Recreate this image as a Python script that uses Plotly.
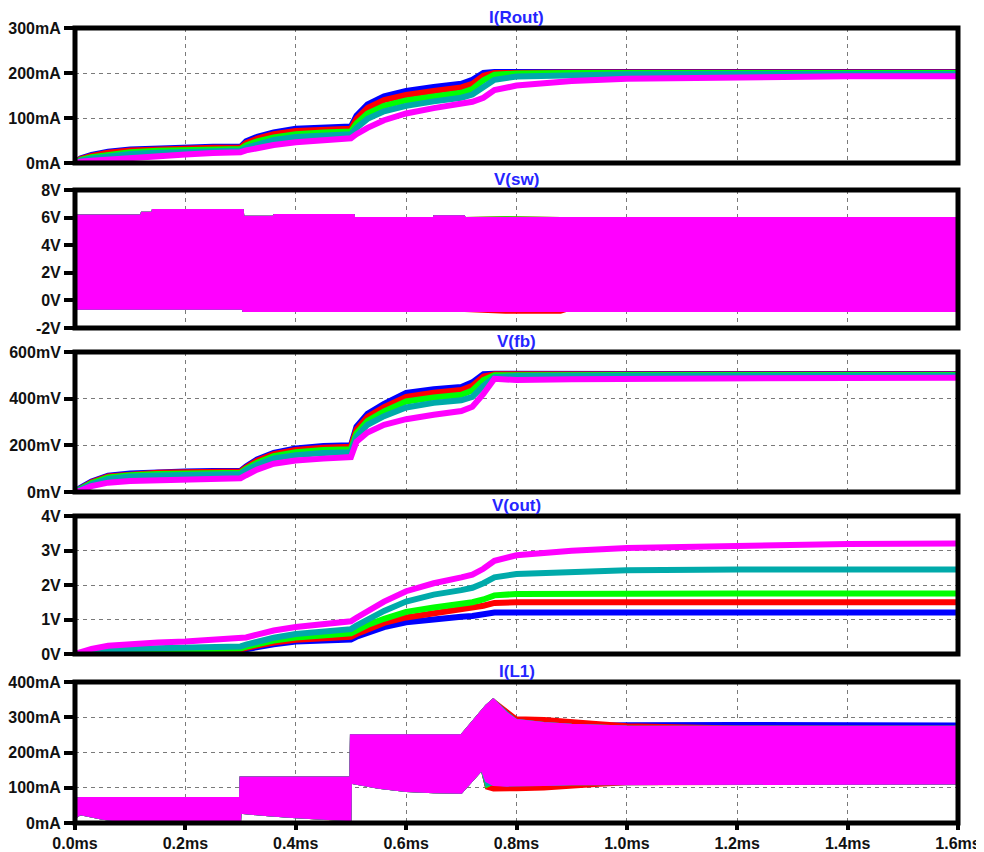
import plotly.graph_objects as go

# ---------------- data ----------------
SERIES_COLORS = ["#0000FF", "#FF0000", "#00FF00", "#00AAAA", "#FF00FF"]
PANEL_TITLES = ["I(Rout)", "V(sw)", "V(fb)", "V(out)", "I(L1)"]

# common time base (ms) for the smooth traces
t_smooth = [0, 0.01, 0.03, 0.06, 0.1, 0.15, 0.2, 0.25, 0.3, 0.31, 0.33, 0.36, 0.4, 0.45, 0.5,
            0.51, 0.53, 0.56, 0.6, 0.65, 0.7, 0.72, 0.74, 0.76, 0.8, 0.9, 1.0, 1.2, 1.4, 1.6]

# I(Rout) in mA
irout_blue = [0, 10, 18, 25, 30, 33, 35, 36, 36, 48, 58, 68, 76, 80, 81,
              105, 130, 148, 160, 169, 176, 185, 200, 202, 202, 202, 202, 202, 202, 202]
irout_red = [0, 9, 16, 23, 28, 31, 33, 34, 34, 44, 54, 64, 71, 75, 76,
             98, 122, 140, 151, 160, 168, 176, 194, 200, 201, 201, 201, 201, 201, 201]
irout_green = [0, 7, 13, 19, 24, 27, 29, 30, 31, 39, 48, 57, 64, 68, 70,
               88, 110, 127, 139, 148, 156, 164, 184, 196, 199, 200, 200, 200, 200, 200]
irout_teal = [0, 5, 10, 15, 20, 23, 25, 27, 28, 34, 42, 51, 58, 62, 64,
              78, 98, 115, 127, 137, 145, 152, 168, 185, 192, 196, 197, 198, 198, 198]
irout_magenta = [0, 3, 5, 8, 12, 16, 19, 22, 24, 28, 34, 40, 46, 51, 55,
                 64, 78, 95, 110, 122, 131, 136, 145, 162, 172, 182, 187, 191, 193, 193]

# V(fb) in mV
vfb_blue = [0, 18, 45, 70, 79, 85, 88, 90, 91, 110, 140, 168, 187, 197, 200,
            280, 335, 378, 425, 440, 450, 470, 505, 507, 506, 506, 506, 506, 506, 506]
vfb_red = [0, 16, 42, 67, 76, 82, 85, 87, 88, 105, 134, 162, 180, 190, 194,
           268, 322, 364, 408, 425, 437, 455, 495, 505, 504, 504, 504, 504, 504, 504]
vfb_green = [0, 14, 38, 62, 72, 77, 80, 82, 83, 100, 126, 154, 170, 180, 183,
             252, 305, 345, 388, 405, 417, 435, 480, 500, 501, 501, 501, 501, 501, 501]
vfb_teal = [0, 11, 33, 56, 66, 71, 74, 76, 77, 94, 117, 144, 158, 167, 170,
            238, 288, 325, 362, 382, 393, 408, 455, 492, 497, 498, 498, 498, 498, 498]
vfb_magenta = [0, 6, 25, 40, 47, 51, 54, 57, 59, 72, 96, 121, 135, 143, 150,
               215, 255, 288, 312, 331, 347, 365, 420, 485, 480, 483, 485, 488, 489, 490]

# V(out) in V
vout_blue = [0, 0.01, 0.03, 0.05, 0.06, 0.07, 0.08, 0.08, 0.09, 0.14, 0.21, 0.28, 0.36, 0.40, 0.42,
             0.50, 0.62, 0.78, 0.92, 1.02, 1.08, 1.10, 1.15, 1.20, 1.20, 1.20, 1.20, 1.20, 1.20, 1.20]
vout_red = [0, 0.01, 0.04, 0.07, 0.09, 0.10, 0.11, 0.12, 0.13, 0.18, 0.25, 0.33, 0.41, 0.46, 0.50,
            0.58, 0.72, 0.90, 1.06, 1.18, 1.27, 1.32, 1.40, 1.48, 1.50, 1.50, 1.50, 1.50, 1.50, 1.50]
vout_green = [0, 0.02, 0.05, 0.09, 0.11, 0.13, 0.14, 0.15, 0.16, 0.21, 0.29, 0.39, 0.48, 0.55, 0.60,
              0.68, 0.84, 1.02, 1.22, 1.35, 1.45, 1.50, 1.58, 1.70, 1.74, 1.75, 1.75, 1.75, 1.75, 1.75]
vout_teal = [0, 0.02, 0.07, 0.12, 0.15, 0.17, 0.19, 0.20, 0.22, 0.27, 0.36, 0.47, 0.58, 0.66, 0.72,
             0.82, 1.00, 1.25, 1.52, 1.72, 1.85, 1.92, 2.05, 2.22, 2.32, 2.38, 2.43, 2.45, 2.45, 2.45]
vout_magenta = [0, 0.05, 0.15, 0.24, 0.29, 0.33, 0.36, 0.40, 0.44, 0.48, 0.56, 0.68, 0.78, 0.88, 0.95,
                1.05, 1.25, 1.52, 1.82, 2.05, 2.22, 2.30, 2.47, 2.70, 2.86, 2.99, 3.07, 3.14, 3.19, 3.20]

# V(sw) switching envelope (V)
t_sw = [0, 0.12, 0.121, 0.14, 0.141, 0.304, 0.305, 0.36, 0.361, 0.505, 0.506, 0.65, 0.651,
        0.705, 0.706, 0.78, 0.88, 0.89, 1.6]
vsw_hi_blue = [6.15, 6.15, 6.35, 6.35, 6.55, 6.55, 6.07, 6.07, 6.19, 6.19, 5.98, 5.98, 6.1,
               6.1, 5.98, 5.98, 5.98, 5.98, 5.98]
vsw_lo_blue = [-0.6, -0.6, -0.6, -0.6, -0.6, -0.6, -0.77, -0.77, -0.77, -0.77, -0.77, -0.77, -0.77,
               -0.77, -0.77, -0.77, -0.77, -0.77, -0.77]
vsw_hi_red = [6.15, 6.15, 6.35, 6.35, 6.55, 6.55, 6.07, 6.07, 6.19, 6.19, 5.98, 5.98, 6.1,
              6.1, 5.98, 6.02, 5.98, 5.98, 5.98]
vsw_lo_red = [-0.6, -0.6, -0.6, -0.6, -0.6, -0.6, -0.77, -0.77, -0.77, -0.77, -0.77, -0.77, -0.77,
              -0.77, -0.77, -0.9, -0.9, -0.77, -0.77]
vsw_hi_green = [6.15, 6.15, 6.35, 6.35, 6.55, 6.55, 6.07, 6.07, 6.19, 6.19, 5.98, 5.98, 6.1,
                6.1, 5.98, 6.03, 5.98, 5.98, 5.98]
vsw_lo_green = [-0.6, -0.6, -0.6, -0.6, -0.6, -0.6, -0.77, -0.77, -0.77, -0.77, -0.77, -0.77, -0.77,
                -0.77, -0.77, -0.77, -0.77, -0.77, -0.77]
vsw_hi_teal = [6.15, 6.15, 6.35, 6.35, 6.55, 6.55, 6.07, 6.07, 6.19, 6.19, 5.98, 5.98, 6.1,
               6.1, 5.98, 5.98, 5.98, 5.98, 5.98]
vsw_lo_teal = [-0.6, -0.6, -0.6, -0.6, -0.6, -0.6, -0.77, -0.77, -0.77, -0.77, -0.77, -0.77, -0.77,
               -0.77, -0.77, -0.77, -0.77, -0.77, -0.77]
vsw_hi_magenta = [6.15, 6.15, 6.35, 6.35, 6.55, 6.55, 6.07, 6.07, 6.19, 6.19, 5.98, 5.98, 6.1,
                  6.1, 5.98, 5.98, 5.98, 5.98, 5.98]
vsw_lo_magenta = [-0.6, -0.6, -0.6, -0.6, -0.6, -0.6, -0.77, -0.77, -0.77, -0.77, -0.77, -0.77, -0.77,
                  -0.77, -0.77, -0.77, -0.77, -0.77, -0.77]

# I(L1) ripple envelope (mA)
t_il = [0, 0.01, 0.05, 0.1, 0.2, 0.299, 0.3, 0.35, 0.4, 0.45, 0.499, 0.5, 0.55, 0.6, 0.65, 0.7,
        0.737, 0.745, 0.758, 0.783, 0.8, 0.85, 0.9, 0.95, 1.0, 1.2, 1.4, 1.6]
il_hi_blue = [69, 71, 71, 71, 71, 71, 129, 129, 129, 129, 129, 249, 249, 249, 249, 249,
              318, 333, 351, 311, 292, 284, 281, 282, 283, 284, 282, 282]
il_lo_blue = [15, 25, 12, 2, 0, 0, 29, 22, 16, 11, 8, 114, 100, 91, 87, 86,
              151, 100, 104, 106, 107, 108, 110, 111, 112, 112, 112, 112]
il_hi_red = [69, 71, 71, 71, 71, 71, 129, 129, 129, 129, 129, 249, 249, 249, 249, 249,
             318, 333, 351, 320, 300, 298, 293, 286, 280, 274, 273, 273]
il_lo_red = [15, 25, 12, 2, 0, 0, 29, 22, 16, 11, 8, 114, 100, 91, 87, 86,
             151, 98, 92, 92, 93, 95, 101, 106, 110, 112, 112, 112]
il_hi_green = [69, 71, 71, 71, 71, 71, 129, 129, 129, 129, 129, 249, 249, 249, 249, 249,
               318, 333, 351, 313, 292, 284, 279, 276, 274, 273, 273, 273]
il_lo_green = [15, 25, 12, 2, 0, 0, 29, 22, 16, 11, 8, 114, 100, 91, 87, 86,
               151, 102, 112, 108, 107, 108, 110, 111, 112, 112, 112, 112]
il_hi_teal = [69, 71, 71, 71, 71, 71, 129, 129, 129, 129, 129, 249, 249, 249, 249, 249,
              318, 333, 351, 314, 293, 284, 279, 276, 274, 273, 273, 273]
il_lo_teal = [15, 25, 12, 2, 0, 0, 29, 22, 16, 11, 8, 114, 100, 91, 87, 86,
              151, 106, 110, 106, 107, 108, 110, 111, 112, 112, 112, 112]
il_hi_magenta = [69, 71, 71, 71, 71, 71, 129, 129, 129, 129, 129, 249, 249, 249, 249, 249,
                 318, 333, 351, 311, 292, 284, 279, 276, 274, 273, 273, 273]
il_lo_magenta = [15, 25, 12, 2, 0, 0, 29, 22, 16, 11, 8, 114, 100, 91, 87, 86,
                 151, 118, 108, 106, 107, 108, 110, 111, 112, 112, 112, 112]

# axis ticks
x_ticks = [0, 0.2, 0.4, 0.6, 0.8, 1.0, 1.2, 1.4, 1.6]
x_ticklabels = ["0.0ms", "0.2ms", "0.4ms", "0.6ms", "0.8ms", "1.0ms", "1.2ms", "1.4ms", "1.6ms"]
irout_ticks = [0, 100, 200, 300]
irout_ticklabels = ["0mA", "100mA", "200mA", "300mA"]
vsw_ticks = [-2, 0, 2, 4, 6, 8]
vsw_ticklabels = ["-2V", "0V", "2V", "4V", "6V", "8V"]
vfb_ticks = [0, 200, 400, 600]
vfb_ticklabels = ["0mV", "200mV", "400mV", "600mV"]
vout_ticks = [0, 1, 2, 3, 4]
vout_ticklabels = ["0V", "1V", "2V", "3V", "4V"]
il_ticks = [0, 100, 200, 300, 400]
il_ticklabels = ["0mA", "100mA", "200mA", "300mA", "400mA"]

# ---------------- figure ----------------
# the page body has an 8px margin, so the figure is sized/positioned to compensate
OFF = 8
W, H = 984 - OFF, 852 - OFF
X_LEFT, X_RIGHT = 75 - OFF, 958 - OFF
PANEL_PX = [(28 - OFF, 163 - OFF), (190 - OFF, 328 - OFF), (352 - OFF, 492 - OFF),
            (516 - OFF, 654 - OFF), (682 - OFF, 823 - OFF)]

fig = go.Figure()

line_sets = {
    1: [irout_blue, irout_red, irout_green, irout_teal, irout_magenta],
    3: [vfb_blue, vfb_red, vfb_green, vfb_teal, vfb_magenta],
    4: [vout_blue, vout_red, vout_green, vout_teal, vout_magenta],
}
band_sets = {
    2: (t_sw, [(vsw_hi_blue, vsw_lo_blue), (vsw_hi_red, vsw_lo_red), (vsw_hi_green, vsw_lo_green),
               (vsw_hi_teal, vsw_lo_teal), (vsw_hi_magenta, vsw_lo_magenta)]),
    5: (t_il, [(il_hi_blue, il_lo_blue), (il_hi_red, il_lo_red), (il_hi_green, il_lo_green),
               (il_hi_teal, il_lo_teal), (il_hi_magenta, il_lo_magenta)]),
}

def axname(i, kind):
    return kind if i == 1 else f"{kind}{i}"

for i in range(1, 6):
    xa, ya = axname(i, "x"), axname(i, "y")
    if i in line_sets:
        for col, ys in zip(SERIES_COLORS, line_sets[i]):
            fig.add_trace(go.Scatter(x=t_smooth, y=ys, mode="lines", xaxis=xa, yaxis=ya,
                                     line=dict(color=col, width=6), hoverinfo="skip"))
    else:
        tb, bands = band_sets[i]
        for col, (hi, lo) in zip(SERIES_COLORS, bands):
            fig.add_trace(go.Scatter(x=list(tb) + list(tb)[::-1], y=list(hi) + list(lo)[::-1],
                                     mode="lines", fill="toself", fillcolor=col,
                                     xaxis=xa, yaxis=ya, line=dict(color=col, width=2),
                                     hoverinfo="skip"))

tick_font = dict(family="Liberation Sans, Arial, sans-serif", size=16, color="#111111", weight="bold")
y_specs = [
    ([0, 300], irout_ticks, irout_ticklabels),
    ([-2, 8], vsw_ticks, vsw_ticklabels),
    ([0, 600], vfb_ticks, vfb_ticklabels),
    ([0, 4], vout_ticks, vout_ticklabels),
    ([0, 400], il_ticks, il_ticklabels),
]

layout = dict(width=W, height=H, margin=dict(l=0, r=0, t=0, b=0, autoexpand=False),
              paper_bgcolor="white", plot_bgcolor="white", showlegend=False)
shapes, annotations = [], []
xdom = [X_LEFT / W, X_RIGHT / W]
for i in range(1, 6):
    top, bot = PANEL_PX[i - 1]
    ydom = [1 - bot / H, 1 - top / H]
    rng, tv, tt = y_specs[i - 1]
    xkey = "xaxis" if i == 1 else f"xaxis{i}"
    ykey = "yaxis" if i == 1 else f"yaxis{i}"
    layout[xkey] = dict(domain=xdom, range=[0, 1.6], anchor=axname(i, "y"), automargin=False,
                        tickvals=x_ticks, ticktext=x_ticklabels,
                        showticklabels=(i == 5), ticks="outside" if i == 5 else "",
                        ticklen=6, tickwidth=4, tickcolor="black", tickfont=tick_font,
                        showgrid=True, gridcolor="#7a7a7a", gridwidth=1.3, griddash="4px,4px",
                        zeroline=False, showline=False, fixedrange=True)
    if i != 1:
        layout[xkey]["matches"] = "x"
    layout[ykey] = dict(domain=ydom, range=rng, anchor=axname(i, "x"), automargin=False,
                        tickvals=tv, ticktext=tt, ticks="outside", ticklen=10, tickwidth=4,
                        tickcolor="black", tickfont=tick_font,
                        showgrid=True, gridcolor="#7a7a7a", gridwidth=1.3, griddash="4px,4px",
                        zeroline=False, showline=False, fixedrange=True)
    shapes.append(dict(type="rect", xref=f"{axname(i, 'x')} domain", yref=f"{axname(i, 'y')} domain",
                       x0=0, x1=1, y0=0, y1=1, line=dict(color="black", width=5),
                       fillcolor="rgba(0,0,0,0)", layer="above"))
    annotations.append(dict(text=PANEL_TITLES[i - 1], xref=f"{axname(i, 'x')} domain",
                            yref=f"{axname(i, 'y')} domain", x=0.5, y=1, xanchor="center",
                            yanchor="bottom", yshift=0, borderpad=0, showarrow=False,
                            font=dict(family="Liberation Sans, Arial, sans-serif", size=17,
                                      color="#2525FF", weight="bold")))

layout["shapes"] = shapes
layout["annotations"] = annotations
fig.update_layout(**layout)

fig.write_html("out.html")
